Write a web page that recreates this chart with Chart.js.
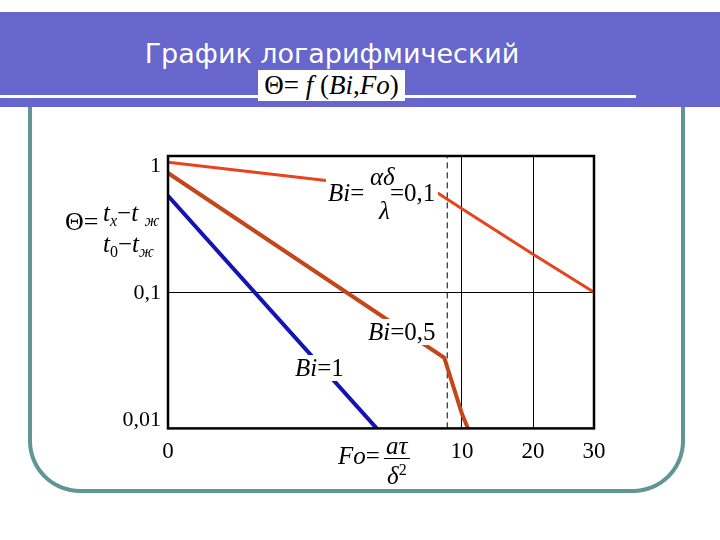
<!DOCTYPE html>
<html>
<head>
<meta charset="utf-8">
<script src="https://cdn.jsdelivr.net/npm/chart.js@4/dist/chart.umd.min.js"></script>
<style>
  body { margin: 0; background: #fff; }
  .slide { position: relative; width: 720px; height: 540px; overflow: hidden; background: #fff; }
  .frame { position: absolute; left: 28px; top: 100px; width: 649px; height: 389px;
    border: 4px solid #5f9595; border-top: none; border-radius: 0 0 52px 52px; }
  .band { position: absolute; left: 0; top: 12px; width: 720px; height: 95px; background: #6666cc; }
  .rule { position: absolute; left: 0; top: 95px; width: 636px; height: 3px; background: #fff; }
  .title { position: absolute; left: 0; width: 664px; top: 38px; text-align: center; color: #fff;
    font: 27px "DejaVu Sans", sans-serif; }
  .formula { position: absolute; left: 258px; top: 70px; width: 147px; height: 31px; background: #fff;
    font: 27px "Liberation Serif", serif; line-height: 31px; text-align: center; color: #000; }
  canvas { position: absolute; left: 0; top: 0; }
  .m { position: absolute; font: 25px "Liberation Serif", serif; color: #000; line-height: 26px; white-space: nowrap; }
  .bg { background: #fff; }
  .m sub { font-size: 16px; vertical-align: -5px; line-height: 0; }
  .m sup { font-size: 16px; vertical-align: 9px; line-height: 0; }
  .bar { position: absolute; height: 1px; background: #000; }
</style>
</head>
<body>
<div class="slide">
  <div class="frame"></div>
  <div class="band"></div>
  <div class="rule"></div>
  <div class="title">График логарифмический</div>
  <div class="formula">Θ= <i>f</i> (<i>Bi</i>,<i>Fo</i>)</div>
  <canvas id="chart" width="720" height="540"></canvas>

  <div class="m" style="left:65px;top:209px;font-size:26px">Θ=</div>
  <div class="m" style="left:103px;top:200px"><i>t</i><sub><i>x</i></sub>−<i>t</i> <sub><i>ж</i></sub></div>
  <div class="m" style="left:103px;top:231px"><i>t</i><sub>0</sub>−<i>t</i><sub><i>ж</i></sub></div>

  <div class="m bg" style="left:326px;top:172px;width:112px;height:44px"></div>
  <div class="m" style="left:328px;top:180px"><i>Bi</i>=</div>
  <div class="m" style="left:370px;top:164px"><i>αδ</i></div>
  <div class="m" style="left:379px;top:198px"><i>λ</i></div>
  <div class="m" style="left:390px;top:180px">=0,1</div>

  <div class="m bg" style="left:366px;top:319px;padding:0 2px"><i>Bi</i>=0,5</div>
  <div class="m bg" style="left:293px;top:355px;padding:0 2px"><i>Bi</i>=1</div>

  <div class="m" style="left:338px;top:443px"><i>Fo</i>=</div>
  <div class="m" style="left:386px;top:433px"><i>aτ</i></div>
  <div class="bar" style="left:384px;top:458px;width:26px"></div>
  <div class="m" style="left:387px;top:463px"><i>δ</i><sup>2</sup></div>
</div>
<script>
const foTicks = [0, 10, 20, 30];
const thetaTicks = [0.01, 0.1, 1];

const foBi01 = [0, 9.2, 10, 20, 30];
const thetaBi01 = [0.90, 0.53, 0.41, 0.19, 0.10];

const foBi05 = [0, 9.4, 10, 10.85];
const thetaBi05 = [0.75, 0.033, 0.0128, 0.01];

const foBi1 = [0, 7.1];
const thetaBi1 = [0.51, 0.01];

const foCritical = 9.5;

// Fo axis in the picture is broken: 0..10 is wide, 10..20 and 20..30 are squeezed
class PiecewiseScale extends Chart.LinearScale {
  static id = 'piecewise';
  static defaults = {};

  _toDecimal(value) {
    const stops = this.options.stops;
    if (value <= stops[0][0]) return stops[0][1];
    for (let i = 1; i < stops.length; i++) {
      const [v0, d0] = stops[i - 1];
      const [v1, d1] = stops[i];
      if (value <= v1) return d0 + (value - v0) / (v1 - v0) * (d1 - d0);
    }
    return stops[stops.length - 1][1];
  }

  getPixelForValue(value) {
    if (value === null || value === undefined) return NaN;
    return this.getPixelForDecimal(this._toDecimal(value));
  }

  getValueForPixel(pixel) {
    const dec = this.getDecimalForPixel(pixel);
    const stops = this.options.stops;
    for (let i = 1; i < stops.length; i++) {
      const [v0, d0] = stops[i - 1];
      const [v1, d1] = stops[i];
      if (dec <= d1) return v0 + (dec - d0) / (d1 - d0) * (v1 - v0);
    }
    return stops[stops.length - 1][0];
  }
}
Chart.register(PiecewiseScale);

const toPoints = (xs, ys) => xs.map((x, i) => ({ x, y: ys[i] }));

const plotFrame = {
  id: 'plotFrame',
  afterDraw(chart) {
    const { ctx, chartArea: a, scales } = chart;
    ctx.save();
    ctx.strokeStyle = '#000';
    ctx.lineWidth = 2.5;
    ctx.strokeRect(a.left, a.top, a.right - a.left, a.bottom - a.top);

    // y labels kept inside the axis range like the original
    ctx.fillStyle = '#000';
    ctx.font = '22px "Liberation Serif", serif';
    ctx.textAlign = 'right';
    thetaTicks.forEach((v) => {
      const y = scales.y.getPixelForValue(v);
      ctx.textBaseline = v === thetaTicks[thetaTicks.length - 1] ? 'top' : (v === thetaTicks[0] ? 'bottom' : 'middle');
      const yy = ctx.textBaseline === 'top' ? y - 1 : (ctx.textBaseline === 'bottom' ? y + 3 : y + 1);
      ctx.fillText(String(v).replace('.', ','), a.left - 7, yy);
    });
    ctx.restore();
  },
};

new Chart(document.getElementById('chart'), {
  type: 'line',
  data: {
    datasets: [
      {
        label: 'Bi = 0,1',
        data: toPoints(foBi01, thetaBi01),
        borderColor: '#e8431f',
        borderWidth: 3,
      },
      {
        label: 'Bi = 0,5',
        data: toPoints(foBi05, thetaBi05),
        borderColor: '#c4471c',
        borderWidth: 4,
      },
      {
        label: 'Bi = 1',
        data: toPoints(foBi1, thetaBi1),
        borderColor: '#1414b4',
        borderWidth: 4,
      },
      {
        label: 'critical Fo',
        data: toPoints([foCritical, foCritical], [thetaTicks[0], thetaTicks[thetaTicks.length - 1]]),
        borderColor: '#000',
        borderWidth: 1,
        borderDash: [6, 4],
      },
    ],
  },
  options: {
    responsive: false,
    animation: false,
    events: [],
    layout: { padding: { left: 168, right: 126, top: 156, bottom: 64 } },
    elements: { point: { radius: 0 }, line: { tension: 0 } },
    scales: {
      x: {
        type: 'piecewise',
        stops: [[0, 0], [10, 0.69], [20, 0.857], [30, 1]],
        min: 0,
        max: 30,
        afterBuildTicks: (s) => { s.ticks = foTicks.map((v) => ({ value: v })); },
        ticks: {
          color: '#000',
          font: { family: '"Liberation Serif", serif', size: 23 },
          padding: 10,
          maxRotation: 0,
          autoSkip: false,
        },
        grid: { color: '#000', lineWidth: 1, drawTicks: false },
        border: { display: false },
      },
      y: {
        type: 'logarithmic',
        min: 0.01,
        max: 1,
        afterBuildTicks: (s) => { s.ticks = thetaTicks.map((v) => ({ value: v })); },
        ticks: { display: false },
        grid: { color: '#000', lineWidth: 1, drawTicks: false },
        border: { display: false },
      },
    },
    plugins: { legend: { display: false }, tooltip: { enabled: false } },
  },
  plugins: [plotFrame],
});
</script>
</body>
</html>
